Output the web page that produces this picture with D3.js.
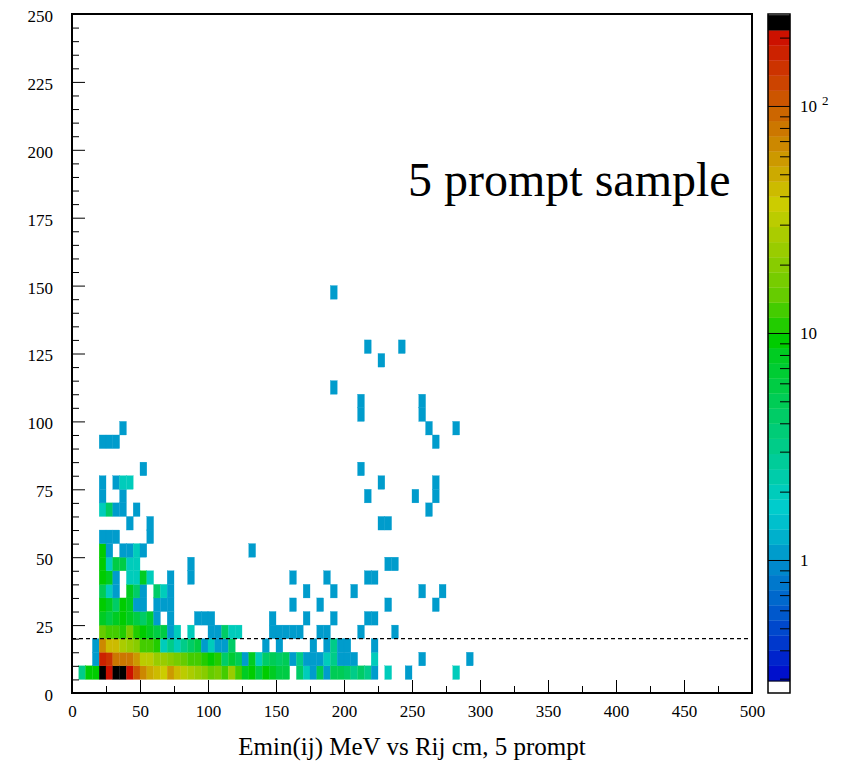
<!DOCTYPE html>
<html>
<head>
<meta charset="utf-8">
<style>
    body { margin: 0; background: #fff; }
    svg { display: block; }
    text { font-family: 'Liberation Serif', 'Times New Roman', serif; fill: #000; }
    .axis .domain { display: none; }
    .axis line { stroke: #000; stroke-width: 1px; }
    .axis text { font-size: 17px; }
</style>
</head>
<body>
<svg width="850" height="765"></svg>
<script src="https://d3js.org/d3.v7.min.js"></script>
<script>
// bins are 5 x 5; each row is [x low edge, count]
const binW = 5, binH = 5

const row5 = [[5,3],[10,9],[15,9],[20,240],[25,210],[30,250],[35,245],[40,200],[45,110],[50,70],[55,50],[60,40],[65,35],[70,55],[75,40],[80,31],[85,27],[90,23],[95,20],[100,15],[105,17],[110,13],[115,23],[120,12],[125,8],[130,9],[135,6],[140,9],[145,8],[150,6],[155,6],[165,4],[170,2],[175,1],[180,5],[185,1],[190,5],[195,5],[200,4],[205,3],[210,4],[215,3],[220,1],[230,2],[245,1],[280,2]]
const row10 = [[15,1],[20,180],[25,155],[30,85],[35,80],[40,85],[45,60],[50,33],[55,33],[60,24],[65,23],[70,20],[75,17],[80,15],[85,12],[90,13],[95,10],[100,9],[105,11],[110,4],[115,7],[120,5],[125,1],[130,8],[135,2],[140,4],[145,5],[150,4],[155,5],[160,1],[165,3],[170,1],[175,1],[180,1],[185,2],[190,3],[195,1],[200,1],[205,1],[220,2],[255,1],[290,1]]
const row15 = [[15,1],[20,68],[25,40],[30,40],[35,27],[40,23],[45,20],[50,13],[55,12],[60,10],[65,2],[70,3],[75,2],[80,3],[85,4],[90,6],[95,1],[100,2],[105,1],[110,1],[115,4],[140,1],[150,1],[175,1],[185,1],[190,3],[195,1],[200,1],[220,1]]
const row20 = [[20,15],[25,13],[30,12],[35,10],[40,16],[45,11],[50,9],[55,8],[60,6],[65,6],[70,1],[75,2],[85,2],[100,1],[105,1],[110,4],[115,2],[120,2],[145,1],[150,1],[155,1],[160,1],[165,1],[180,1],[185,1],[210,1],[235,1]]
const row25 = [[20,8],[25,6],[30,8],[35,9],[40,8],[45,6],[50,4],[55,7],[60,1],[70,1],[90,1],[95,1],[100,1],[145,1],[170,1],[190,1],[215,1],[220,1]]
const row30 = [[20,9],[25,8],[30,4],[35,9],[40,8],[45,1],[50,1],[60,1],[65,1],[70,1],[160,1],[180,1],[230,1],[265,1]]
const row35 = [[20,5],[25,2],[30,1],[40,8],[45,4],[50,1],[60,4],[65,2],[70,1],[170,1],[190,1],[205,1],[255,1],[270,1]]
const row40 = [[20,9],[25,8],[30,1],[40,2],[45,2],[50,8],[55,2],[70,1],[85,1],[160,1],[185,1],[215,1],[220,1]]
const row45 = [[20,9],[25,2],[30,6],[35,6],[40,2],[45,2],[85,1],[230,1],[235,1]]
const row50 = [[20,9],[25,1],[35,1],[40,1],[45,2],[50,1],[130,1]]
const row55 = [[20,1],[25,1],[30,1],[55,1]]
const row60 = [[40,1],[55,1],[225,1],[230,1]]
const row65 = [[20,2],[25,4],[30,1],[35,1],[45,1],[260,1]]
const row70 = [[20,1],[35,1],[215,1],[250,1],[265,1]]
const row75 = [[20,1],[30,1],[35,2],[40,2],[225,1],[265,1]]
const row80 = [[50,1],[210,1]]
const row90 = [[20,1],[25,1],[30,1],[265,1]]
const row95 = [[35,1],[260,1],[280,1]]
const row100 = [[210,1],[255,1]]
const row105 = [[210,1],[255,1]]
const row110 = [[190,1]]
const row120 = [[225,1]]
const row125 = [[215,1],[240,1]]
const row145 = [[190,1]]

const rowLows = [5,10,15,20,25,30,35,40,45,50,55,60,65,70,75,80,90,95,100,105,110,120,125,145]
const rows = [row5,row10,row15,row20,row25,row30,row35,row40,row45,row50,row55,row60,row65,row70,row75,row80,row90,row95,row100,row105,row110,row120,row125,row145]

const xTicks = d3.range(0, 501, 50)
const yTicks = d3.range(0, 251, 25)
const cut = 20

// colour levels 10^(k/15), k = -8 .. 36, lowest band first
const palette = ["#0010cc","#0024cc","#0038cc","#0048cc","#0058cc","#0068cc","#0078cc","#0088cc",
    "#009ccc","#00b0cc","#00c0cc","#00cccc","#00ccbb","#00ccaa","#00cc99","#00cc88","#00cc77","#00cc66",
    "#00cc55","#00cc44","#00cc33","#00cc22","#00cc00","#22cc00","#44cc00","#66cc00","#77cc00","#88cc00",
    "#99cc00","#aacc00","#bbcc00","#cccc00","#ccbb00","#ccaa00","#cc9900","#cc8800","#cc7700","#cc6600",
    "#cc5500","#cc4400","#cc3300","#cc2200","#cc1100","#000000"]
const kMin = -8, perDecade = 15

let cells = []
rows.forEach((r, i) => r.forEach(c => cells.push({ x: c[0], y: rowLows[i], n: c[1] })))

let svg = d3.select("svg")

let x = d3.scaleLinear().domain([0, 500]).range([72, 752])
let y = d3.scaleLinear().domain([0, 250]).range([693, 14])
let z = d3.scaleLog().domain([Math.pow(10, -0.586), Math.pow(10, 2.405)]).range([693, 14])

function colour(n) {
    let k = Math.floor(perDecade * Math.log10(n) + 1e-6)
    k = Math.max(kMin, Math.min(kMin + palette.length - 1, k))
    return palette[k - kMin]
}

// cells
svg.append("g")
    .selectAll("rect")
    .data(cells)
    .join("rect")
    .attr("x", d => x(d.x))
    .attr("y", d => y(d.y + binH))
    .attr("width", d => x(d.x + binW) - x(d.x))
    .attr("height", d => y(d.y) - y(d.y + binH))
    .attr("fill", d => colour(d.n))
    .attr("stroke", d => colour(d.n))
    .attr("stroke-width", 0.3)

// dashed cut line
svg.append("line")
    .attr("x1", x(0)).attr("x2", x(500))
    .attr("y1", y(cut)).attr("y2", y(cut))
    .style("stroke", "#000")
    .style("stroke-dasharray", "4,3")
    .style("stroke-width", "1.2px")

// y axis: inside ticks, labels on the left
svg.append("g").attr("class", "axis")
    .attr("transform", "translate(72,0)")
    .call(d3.axisRight(y).tickValues(d3.range(0, 251, 5).filter(v => v % 25)).tickSize(7).tickFormat(""))
svg.append("g").attr("class", "axis")
    .attr("transform", "translate(72,0)")
    .call(d3.axisRight(y).tickValues(yTicks).tickSize(13).tickFormat(""))
svg.append("g").attr("class", "axis")
    .attr("transform", "translate(72,2)")
    .call(d3.axisLeft(y).tickValues(yTicks).tickSize(0).tickPadding(19))

// x axis
svg.append("g").attr("class", "axis")
    .attr("transform", "translate(0,693)")
    .call(d3.axisTop(x).tickValues(d3.range(25, 500, 50)).tickSize(7).tickFormat(""))
svg.append("g").attr("class", "axis")
    .attr("transform", "translate(0,693)")
    .call(d3.axisTop(x).tickValues(xTicks).tickSize(13).tickFormat(""))
svg.append("g").attr("class", "axis")
    .attr("transform", "translate(0,693)")
    .call(d3.axisBottom(x).tickValues(xTicks).tickSize(0).tickPadding(12))

// frame
svg.append("rect")
    .attr("x", 72).attr("y", 14).attr("width", 680).attr("height", 679)
    .attr("fill", "none").attr("stroke", "#000").attr("stroke-width", 2)

// colour bar
let levels = d3.range(kMin, kMin + palette.length + 1).map(k => Math.pow(10, k / perDecade))
let bar = svg.append("g")
bar.append("rect")
    .attr("x", 768).attr("width", 22)
    .attr("y", z(levels[0])).attr("height", 693 - z(levels[0]))
    .attr("fill", "#fff")
bar.selectAll(".band")
    .data(palette)
    .join("rect")
    .attr("class", "band")
    .attr("x", 768).attr("width", 22)
    .attr("y", (d, i) => Math.max(14, z(levels[i + 1])))
    .attr("height", (d, i) => z(levels[i]) - Math.max(14, z(levels[i + 1])))
    .attr("fill", d => d)
    .attr("stroke", d => d).attr("stroke-width", 0.3)

let minorZ = [0.3,0.4,0.5,0.6,0.7,0.8,0.9,2,3,4,5,6,7,8,9,20,30,40,50,60,70,80,90,200]
svg.append("g").attr("class", "axis")
    .attr("transform", "translate(790,0)")
    .call(d3.axisLeft(z).tickValues(minorZ).tickSize(10).tickFormat(""))
svg.append("g").attr("class", "axis")
    .attr("transform", "translate(790,0)")
    .call(d3.axisLeft(z).tickValues([1, 10, 100]).tickSize(22).tickFormat(""))
svg.append("line")
    .attr("x1", 768).attr("x2", 790).attr("y1", z(levels[0])).attr("y2", z(levels[0]))
    .style("stroke", "#000").style("stroke-width", "1px")
svg.append("rect")
    .attr("x", 768).attr("y", 14).attr("width", 22).attr("height", 679)
    .attr("fill", "none").attr("stroke", "#000").attr("stroke-width", 1.5)

let zl = svg.append("g").style("font-size", "17px")
zl.append("text").attr("x", 800).attr("y", z(1)).attr("dy", "0.35em").text("1")
zl.append("text").attr("x", 800).attr("y", z(10)).attr("dy", "0.35em").text("10")
let t2 = zl.append("text").attr("x", 800).attr("y", z(100)).attr("dy", "0.35em")
t2.append("tspan").text("10")
t2.append("tspan").attr("dx", 5).attr("dy", "-0.55em").style("font-size", "13px").text("2")

// labels
svg.append("text")
    .attr("x", 408).attr("y", 196)
    .style("font-size", "48px")
    .text("5 prompt sample")

svg.append("text")
    .attr("x", 412).attr("y", 755)
    .attr("text-anchor", "middle")
    .style("font-size", "25px")
    .text("Emin(ij) MeV vs Rij cm, 5 prompt")
</script>
</body>
</html>
